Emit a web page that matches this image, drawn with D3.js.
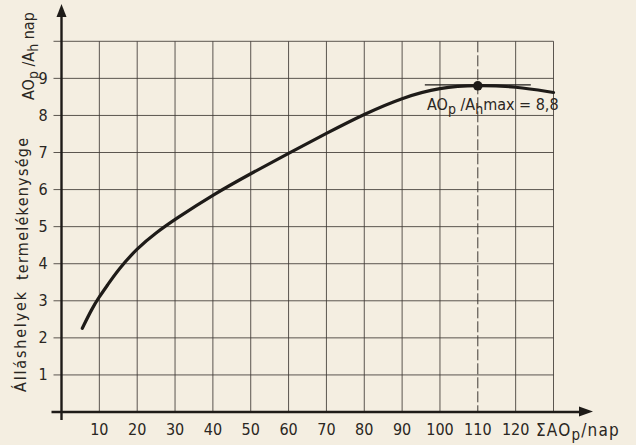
<!DOCTYPE html>
<html>
<head>
<meta charset="utf-8">
<script src="https://cdn.jsdelivr.net/npm/d3@7"></script>
<style>
  body { margin: 0; background: #f4eee1; }
  svg { display: block; }
  text { font-family: "Liberation Sans Narrow", "DejaVu Sans Condensed", sans-serif; fill: #2a2622; }
</style>
</head>
<body>
<div class="chart"></div>
<script>
// curve
var sum_days = [5.5, 8, 10, 12, 15, 20, 25, 30, 40, 50, 60, 70, 80, 90, 100, 110, 120, 130],
    productivity = [2.26, 2.78, 3.11, 3.40, 3.84, 4.42, 4.84, 5.2, 5.86, 6.43, 6.98, 7.52, 8.04, 8.48, 8.76, 8.82, 8.78, 8.62],
    x_ticks = [10, 20, 30, 40, 50, 60, 70, 80, 90, 100, 110, 120],
    y_ticks = [1, 2, 3, 4, 5, 6, 7, 8, 9],
    max_x = 110,
    max_y = 8.8,
    tangent_span = [96, 124];

var width = 636,
    height = 445,
    ink = "#1e1b18",
    grid_ink = "#3f3a35";

var x = d3.scaleLinear().domain([0, 130]).range([61.5, 553.5]),
    y = d3.scaleLinear().domain([0, 10]).range([412, 41.3]);

var svg = d3.select(".chart")
    .append("svg")
    .attr("width", width)
    .attr("height", height);

// grid
var grid = svg.append("g")
    .attr("stroke", grid_ink)
    .attr("stroke-width", 1)
    .attr("stroke-opacity", 0.85);

grid.selectAll(".vline")
    .data(x_ticks.filter(function(d) { return d !== max_x; }).concat([130]))
    .enter().append("line")
    .attr("x1", function(d) { return x(d); })
    .attr("x2", function(d) { return x(d); })
    .attr("y1", y(10))
    .attr("y2", y(0));

grid.selectAll(".hline")
    .data(y_ticks.concat([10]))
    .enter().append("line")
    .attr("x1", x(0) - 8)
    .attr("x2", x(130))
    .attr("y1", function(d) { return y(d); })
    .attr("y2", function(d) { return y(d); });

// dashed line at the maximum
svg.append("line")
    .attr("x1", x(max_x)).attr("x2", x(max_x))
    .attr("y1", y(10)).attr("y2", y(0))
    .attr("stroke", grid_ink)
    .attr("stroke-width", 1)
    .attr("stroke-dasharray", "11,3");

// axes with arrows
svg.append("line")
    .attr("x1", x(0) - 10).attr("x2", 582)
    .attr("y1", y(0)).attr("y2", y(0))
    .attr("stroke", ink).attr("stroke-width", 2.4);

svg.append("path")
    .attr("d", "M593,411.5 L579,406.5 L579,416.5 Z")
    .attr("fill", ink);

svg.append("line")
    .attr("x1", x(0)).attr("x2", x(0))
    .attr("y1", 420).attr("y2", 16)
    .attr("stroke", ink).attr("stroke-width", 2.4);

svg.append("path")
    .attr("d", "M61.5,4 L56.5,17 L66.5,17 Z")
    .attr("fill", ink);

// tick labels
svg.selectAll(".xlab")
    .data(x_ticks)
    .enter().append("text")
    .attr("x", function(d) { return x(d); })
    .attr("y", 434.5)
    .attr("text-anchor", "middle")
    .attr("font-size", 16)
    .text(function(d) { return d; });

svg.selectAll(".ylab")
    .data(y_ticks)
    .enter().append("text")
    .attr("x", 43)
    .attr("y", function(d) { return y(d) + 5.5; })
    .attr("text-anchor", "middle")
    .attr("font-size", 16)
    .text(function(d) { return d; });

// axis titles
var xt = svg.append("text")
    .attr("x", 536)
    .attr("y", 436)
    .attr("font-size", 17)
    .attr("letter-spacing", 1.2);
xt.append("tspan").text("ΣAO");
xt.append("tspan").attr("dy", 4).attr("font-size", 15).text("p");
xt.append("tspan").attr("dy", -4).text("/nap");

var yt = svg.append("g")
    .attr("transform", "translate(26,392) rotate(-90)");
yt.append("text")
    .attr("x", 0).attr("y", 0)
    .attr("font-size", 16)
    .attr("textLength", 100)
    .attr("lengthAdjust", "spacing")
    .text("Álláshelyek");
yt.append("text")
    .attr("x", 112).attr("y", 2)
    .attr("font-size", 16)
    .attr("textLength", 142)
    .attr("lengthAdjust", "spacing")
    .text("termelékenysége");

var yt2 = svg.append("text")
    .attr("transform", "translate(34,100) rotate(-90)")
    .attr("font-size", 16);
yt2.append("tspan").text("AO");
yt2.append("tspan").attr("dy", 4).attr("font-size", 14).text("p");
yt2.append("tspan").attr("dy", -4).text(" /A");
yt2.append("tspan").attr("dy", 4).attr("font-size", 14).text("h");
yt2.append("tspan").attr("dy", -4).text(" nap");

// the curve
var line = d3.line()
    .x(function(d, i) { return x(sum_days[i]); })
    .y(function(d) { return y(d); })
    .curve(d3.curveBasis);

svg.append("path")
    .datum(productivity)
    .attr("d", line)
    .attr("fill", "none")
    .attr("stroke", ink)
    .attr("stroke-width", 3.2)
    .attr("stroke-linecap", "round");

// maximum marker
svg.append("line")
    .attr("x1", x(tangent_span[0])).attr("x2", x(tangent_span[1]))
    .attr("y1", y(max_y) - 1).attr("y2", y(max_y) - 1)
    .attr("stroke", ink).attr("stroke-width", 1.2);

svg.append("circle")
    .attr("cx", x(max_x))
    .attr("cy", y(max_y))
    .attr("r", 4.8)
    .attr("fill", ink);

var ann = svg.append("text")
    .attr("x", 427)
    .attr("y", 109.5)
    .attr("font-size", 16);
ann.append("tspan").text("AO");
ann.append("tspan").attr("dy", 4).attr("font-size", 14).text("p");
ann.append("tspan").attr("dy", -4).text(" /A");
ann.append("tspan").attr("dy", 4).attr("font-size", 14).text("h");
ann.append("tspan").attr("dy", -4).text("max = " + String(max_y).replace(".", ","));
</script>
</body>
</html>
